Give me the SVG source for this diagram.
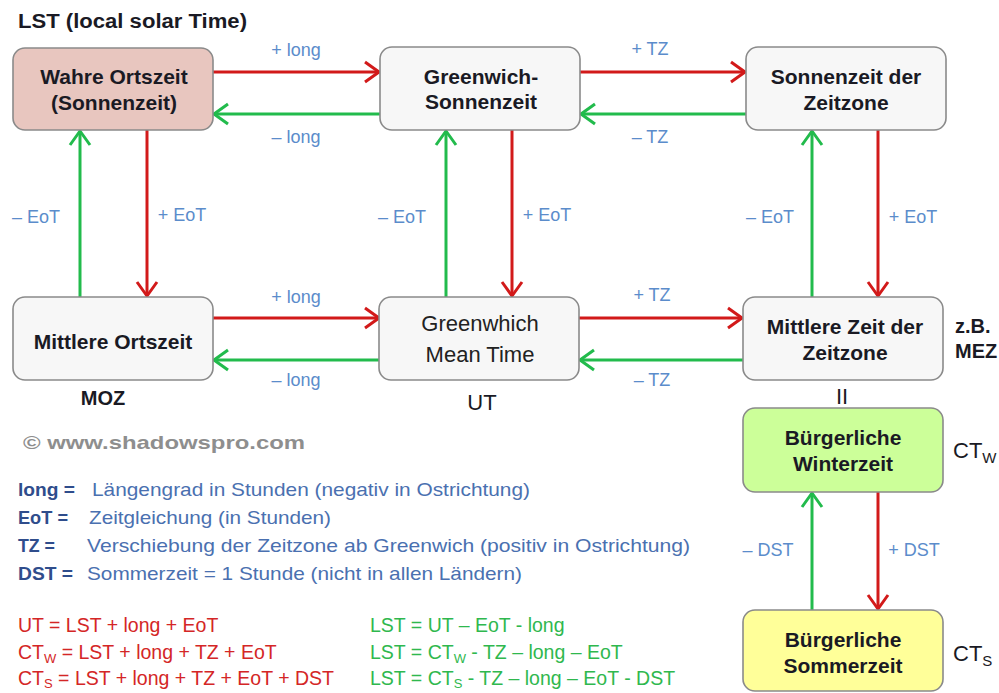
<svg xmlns="http://www.w3.org/2000/svg" width="999" height="693" viewBox="0 0 999 693">
<style>
.box{stroke:#8a8a8a;stroke-width:1.6;fill:#f7f7f7}
.nt{font-family:"Liberation Sans",Arial,sans-serif;font-weight:bold;font-size:21px;fill:#1a1a24;text-anchor:middle}
.nr{font-family:"Liberation Sans",Arial,sans-serif;font-size:22px;fill:#222;text-anchor:middle}
.lb{font-family:"Liberation Sans",Arial,sans-serif;font-size:18px;fill:#5b8ccb;text-anchor:middle}
.red{stroke:#d21a1a;stroke-width:3;fill:none;marker-end:url(#ar)}
.grn{stroke:#22bb4c;stroke-width:3;fill:none;marker-end:url(#ag)}
.key{font-family:"Liberation Sans",Arial,sans-serif;font-weight:bold;font-size:19px;fill:#2f4d8c}
.def{font-family:"Liberation Sans",Arial,sans-serif;font-size:19px;fill:#4a70b0}
.fr{font-family:"Liberation Sans",Arial,sans-serif;font-size:19.5px;fill:#d42626}
.fg{font-family:"Liberation Sans",Arial,sans-serif;font-size:19.5px;fill:#2fb84e}
.side{font-family:"Liberation Sans",Arial,sans-serif;font-size:22px;fill:#1a1a24}
.sb{font-family:"Liberation Sans",Arial,sans-serif;font-weight:bold;font-size:19px;fill:#1a1a24}
</style>
<defs>
<marker id="ar" markerUnits="userSpaceOnUse" viewBox="0 0 18 24" markerWidth="18" markerHeight="24" refX="16" refY="12" orient="auto">
<path d="M2,2 L16,12 L2,22" fill="none" stroke="#d21a1a" stroke-width="3" stroke-linejoin="round"/>
</marker>
<marker id="ag" markerUnits="userSpaceOnUse" viewBox="0 0 18 24" markerWidth="18" markerHeight="24" refX="16" refY="12" orient="auto">
<path d="M2,2 L16,12 L2,22" fill="none" stroke="#22bb4c" stroke-width="3" stroke-linejoin="round"/>
</marker>
</defs>
<rect width="999" height="693" fill="#ffffff"/>

<text x="18" y="28" class="sb" textLength="229" lengthAdjust="spacingAndGlyphs" style="font-size:20px">LST (local solar Time)</text>

<g id="connectors">
<line class="red" x1="213" y1="72" x2="379" y2="72"/>
<line class="grn" x1="380" y1="114" x2="214" y2="114"/>
<line class="red" x1="580" y1="72" x2="745" y2="72"/>
<line class="grn" x1="746" y1="114" x2="581" y2="114"/>
<line class="red" x1="213" y1="318" x2="379" y2="318"/>
<line class="grn" x1="379" y1="360" x2="214" y2="360"/>
<line class="red" x1="579" y1="318" x2="742" y2="318"/>
<line class="grn" x1="743" y1="360" x2="580" y2="360"/>
<line class="grn" x1="80" y1="297" x2="80" y2="131"/>
<line class="red" x1="147" y1="130" x2="147" y2="296"/>
<line class="grn" x1="446" y1="297" x2="446" y2="131"/>
<line class="red" x1="512" y1="130" x2="512" y2="296"/>
<line class="grn" x1="812" y1="297" x2="812" y2="131"/>
<line class="red" x1="878" y1="130" x2="878" y2="296"/>
<line class="grn" x1="812" y1="610" x2="812" y2="493"/>
<line class="red" x1="878" y1="492" x2="878" y2="609"/>
<text class="lb" x="296" y="56">+ long</text>
<text class="lb" x="296" y="143">– long</text>
<text class="lb" x="650" y="55">+ TZ</text>
<text class="lb" x="650" y="143">– TZ</text>
<text class="lb" x="296" y="303">+ long</text>
<text class="lb" x="296" y="386">– long</text>
<text class="lb" x="652" y="301">+ TZ</text>
<text class="lb" x="652" y="386">– TZ</text>
<text class="lb" x="36" y="223">– EoT</text>
<text class="lb" x="182" y="221">+ EoT</text>
<text class="lb" x="402" y="223">– EoT</text>
<text class="lb" x="547" y="221">+ EoT</text>
<text class="lb" x="770" y="223">– EoT</text>
<text class="lb" x="913" y="223">+ EoT</text>
<text class="lb" x="768" y="556">– DST</text>
<text class="lb" x="914" y="556">+ DST</text>
</g>

<g id="wahre-ortszeit">
<rect class="box" x="13" y="48" width="200" height="82" rx="12" style="fill:#e8c6bf"/>
<text class="nt" x="114" y="84">Wahre Ortszeit</text>
<text class="nt" x="114" y="110">(Sonnenzeit)</text>
</g>
<g id="greenwich-sonnenzeit">
<rect class="box" x="380" y="47" width="200" height="83" rx="12"/>
<text class="nt" x="481" y="84">Greenwich-</text>
<text class="nt" x="481" y="109">Sonnenzeit</text>
</g>
<g id="sonnenzeit-zeitzone">
<rect class="box" x="746" y="47" width="200" height="83" rx="12"/>
<text class="nt" x="846" y="84">Sonnenzeit der</text>
<text class="nt" x="846" y="110">Zeitzone</text>
</g>
<g id="mittlere-ortszeit">
<rect class="box" x="13" y="297" width="200" height="83" rx="12"/>
<text class="nt" x="113" y="349">Mittlere Ortszeit</text>
</g>
<g id="gmt">
<rect class="box" x="379" y="297" width="200" height="83" rx="12"/>
<text class="nr" x="480" y="331">Greenwhich</text>
<text class="nr" x="480" y="362">Mean Time</text>
</g>
<g id="mittlere-zeit-zeitzone">
<rect class="box" x="743" y="297" width="200" height="83" rx="12"/>
<text class="nt" x="845" y="334">Mittlere Zeit der</text>
<text class="nt" x="845" y="360">Zeitzone</text>
</g>
<g id="winterzeit">
<rect class="box" x="743" y="408" width="200" height="84" rx="12" style="fill:#ccff99"/>
<text class="nt" x="843" y="445">Bürgerliche</text>
<text class="nt" x="843" y="471">Winterzeit</text>
</g>
<g id="sommerzeit">
<rect class="box" x="743" y="610" width="200" height="81" rx="12" style="fill:#ffff99"/>
<text class="nt" x="843" y="647">Bürgerliche</text>
<text class="nt" x="843" y="673">Sommerzeit</text>
</g>

<text class="sb" x="103" y="405" text-anchor="middle" style="font-size:20px">MOZ</text>
<text class="side" x="482" y="410" text-anchor="middle">UT</text>
<text class="sb" x="955" y="333" style="font-size:20px">z.B.</text>
<text class="sb" x="955" y="358" style="font-size:20px">MEZ</text>
<text class="side" x="842" y="404" text-anchor="middle">II</text>
<text class="side" x="953" y="458">CT<tspan dy="5" font-size="15">W</tspan></text>
<text class="side" x="953" y="661">CT<tspan dy="5" font-size="15">S</tspan></text>

<text x="23" y="449" textLength="282" lengthAdjust="spacingAndGlyphs" style="font-family:'Liberation Sans',Arial,sans-serif;font-weight:bold;font-size:19px;fill:#8e8e8e">© www.shadowspro.com</text>

<text class="key" x="18" y="496" textLength="57" lengthAdjust="spacingAndGlyphs">long =</text>
<text class="def" x="92" y="496" textLength="438" lengthAdjust="spacingAndGlyphs">Längengrad in Stunden (negativ in Ostrichtung)</text>
<text class="key" x="18" y="524" textLength="50" lengthAdjust="spacingAndGlyphs">EoT =</text>
<text class="def" x="89" y="524" textLength="242" lengthAdjust="spacingAndGlyphs">Zeitgleichung (in Stunden)</text>
<text class="key" x="18" y="552" textLength="37" lengthAdjust="spacingAndGlyphs">TZ =</text>
<text class="def" x="87" y="552" textLength="603" lengthAdjust="spacingAndGlyphs">Verschiebung der Zeitzone ab Greenwich (positiv in Ostrichtung)</text>
<text class="key" x="18" y="580" textLength="55" lengthAdjust="spacingAndGlyphs">DST =</text>
<text class="def" x="87" y="580" textLength="435" lengthAdjust="spacingAndGlyphs">Sommerzeit = 1 Stunde (nicht in allen Ländern)</text>

<text class="fr" x="18" y="632">UT = LST + long + EoT</text>
<text class="fr" x="18" y="659">CT<tspan dy="4" font-size="13">W</tspan><tspan dy="-4"> = LST + long + TZ + EoT</tspan></text>
<text class="fr" x="18" y="685">CT<tspan dy="3" font-size="13">S</tspan><tspan dy="-3"> = LST + long + TZ + EoT + DST</tspan></text>
<text class="fg" x="370" y="632">LST = UT – EoT - long</text>
<text class="fg" x="370" y="659">LST = CT<tspan dy="4" font-size="13">W</tspan><tspan dy="-4"> - TZ – long – EoT</tspan></text>
<text class="fg" x="370" y="685">LST = CT<tspan dy="3" font-size="13">S</tspan><tspan dy="-3"> - TZ – long – EoT - DST</tspan></text>
</svg>
